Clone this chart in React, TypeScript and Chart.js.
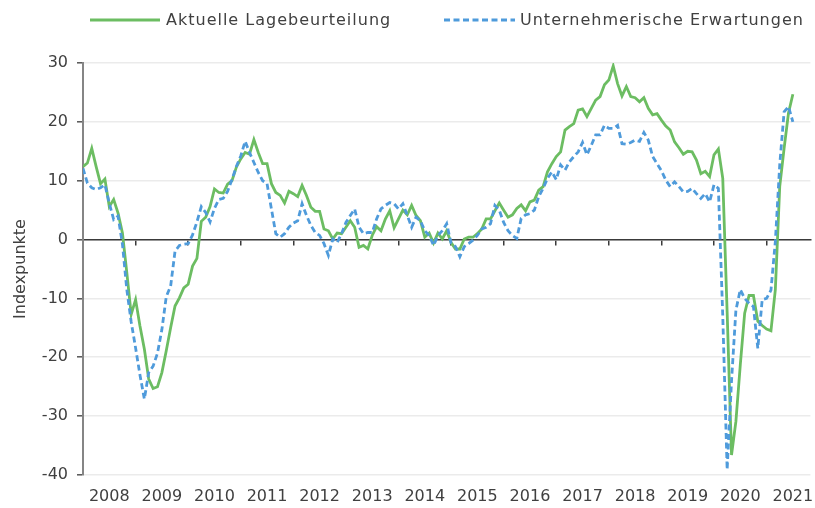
import React, { useEffect, useRef } from 'react';
import { Chart, registerables } from 'chart.js';

Chart.register(...registerables);

// ---- data (monthly, Jan 2008 onwards) ----
const YEAR_LABELS = ['2008', '2009', '2010', '2011', '2012', '2013', '2014', '2015', '2016', '2017', '2018', '2019', '2020', '2021'];

const SERIES_NAMES = ['Aktuelle Lagebeurteilung', 'Unternehmerische Erwartungen'];

const LAGE = [
  12.4, 13.0, 15.5, 12.4, 9.5, 10.3, 5.6, 6.8, 4.5, 1.1, -5.6, -12.7,
  -10.2, -14.7, -18.6, -23.7, -25.3, -25.0, -22.6, -18.9, -15.0, -11.3, -9.9, -8.2,
  -7.6, -4.5, -3.2, 3.1, 3.8, 5.6, 8.6, 8.0, 7.9, 9.4, 10.0, 12.3,
  13.7, 14.8, 14.5, 17.0, 14.8, 12.9, 12.9, 9.5, 8.0, 7.5, 6.2, 8.2,
  7.8, 7.3, 9.2, 7.5, 5.5, 4.8, 4.8, 1.8, 1.5, 0.1, 1.1, 1.0,
  2.1, 3.2, 2.1, -1.3, -1.0, -1.6, 0.7, 2.2, 1.5, 3.5, 4.9, 2.0,
  3.5, 5.0, 4.2, 5.8, 4.1, 3.2, 0.4, 1.1, -0.6, 1.1, 0.1, 1.5,
  -0.5, -1.6, -1.6, 0.1, 0.4, 0.4, 1.0, 1.8, 3.5, 3.5, 4.9, 6.2,
  5.0, 3.8, 4.2, 5.3, 5.9, 4.9, 6.4, 6.7, 8.4, 9.0, 11.5, 12.9,
  14.1, 14.9, 18.6, 19.2, 19.7, 22.0, 22.2, 20.9, 22.3, 23.7, 24.3, 26.3,
  27.1, 29.5, 26.5, 24.4, 26.0, 24.3, 24.1, 23.4, 24.1, 22.3, 21.2, 21.4,
  20.3, 19.3, 18.6, 16.6, 15.6, 14.5, 15.0, 14.9, 13.5, 11.2, 11.6, 10.7,
  14.4, 15.4, 10.4, -12.3, -36.6, -30.9, -21.3, -12.5, -9.5, -9.5, -13.9, -14.6,
  -15.2, -15.5, -8.5, 9.0, 15.5, 21.5, 24.7,
];

const ERWARTUNGEN = [
  12.1, 9.6, 8.8, 8.5, 8.8, 9.3, 6.2, 3.4, 4.0, -0.8, -8.5, -14.0,
  -18.4, -23.0, -27.1, -22.6, -21.5, -19.3, -15.3, -9.7, -7.9, -2.0, -1.0, -0.8,
  -0.7, 0.8, 3.0, 5.6, 4.6, 3.0, 5.3, 6.8, 7.0, 8.2, 10.2, 12.4,
  14.2, 16.7, 14.8, 13.1, 11.4, 10.0, 9.5, 5.2, 1.0, 0.4, 1.0, 2.1,
  2.8, 3.2, 6.1, 4.1, 2.4, 1.2, 0.7, -0.7, -2.7, 0.1, -0.5, 1.0,
  2.9, 4.1, 5.2, 2.1, 1.0, 1.2, 1.2, 3.5, 5.2, 5.8, 6.3, 6.1,
  5.2, 6.1, 4.1, 2.1, 3.8, 3.2, 1.5, 0.7, -1.0, 0.7, 1.5, 2.7,
  -0.6, -1.2, -2.9, -1.2, -0.7, -0.1, 0.7, 1.8, 2.1, 2.7, 5.8, 5.0,
  2.9, 1.5, 0.7, 0.2, 3.6, 4.2, 4.4, 5.0, 7.3, 8.7, 10.4, 11.5,
  10.2, 12.7, 11.8, 13.2, 14.1, 14.9, 16.5, 14.4, 16.0, 17.8, 17.8, 19.4,
  18.9, 18.9, 19.4, 16.3, 16.2, 16.5, 16.9, 16.7, 18.2, 16.9, 14.1, 12.9,
  11.7, 10.1, 9.0, 9.8, 9.0, 8.1, 8.2, 8.7, 7.8, 7.0, 7.8, 6.4,
  9.3, 8.7, -13.0, -39.1, -24.0, -12.0, -8.5, -10.0, -10.8, -11.4, -18.5, -10.2,
  -10.0, -8.6, -0.3, 12.7, 21.7, 22.6, 20.0,
];

const Y_MIN = -40;
const Y_MAX = 30;
const Y_STEP = 10;
const AXIS_TITLE = 'Indexpunkte';

// ---- style ----
const GREEN = '#6cbd62';
const BLUE = '#4f9bdb';
const TEXT = '#404040';
const FONT = "'DejaVu Sans', sans-serif";
const X_MAX = 166; // months shown on the axis

export default function App() {
  const ref = useRef<HTMLCanvasElement>(null);

  useEffect(() => {
    const canvas = ref.current;
    if (!canvas) return;
    const chart = new Chart(canvas, {
      type: 'line',
      data: {
        datasets: [
          {
            label: SERIES_NAMES[0],
            data: LAGE.map((v, i) => ({ x: i, y: v })),
            borderColor: GREEN,
            backgroundColor: GREEN,
            borderWidth: 2.8,
            pointRadius: 0,
            tension: 0,
            order: 1,
            xAxisID: 'x',
            yAxisID: 'y',
          },
          {
            label: SERIES_NAMES[1],
            data: ERWARTUNGEN.map((v, i) => ({ x: i, y: v })),
            borderColor: BLUE,
            backgroundColor: BLUE,
            borderWidth: 2.8,
            borderDash: [6, 3.5],
            pointRadius: 0,
            tension: 0,
            order: 0,
            xAxisID: 'x',
            yAxisID: 'y',
          },
        ],
      },
      options: {
        responsive: false,
        maintainAspectRatio: false,
        animation: false,
        events: [],
        layout: { padding: { top: 63, right: 4.6, bottom: 0, left: 0 } },
        plugins: {
          legend: { display: false },
          tooltip: { enabled: false },
        },
        scales: {
          x: {
            type: 'linear',
            position: 'bottom',
            min: 0,
            max: X_MAX,
            afterBuildTicks: (s: any) => {
              s.ticks = YEAR_LABELS.map((_, i) => ({ value: 6 + 12 * i }));
            },
            afterFit: (s: any) => {
              s.height = 33;
              s.paddingLeft = 0;
              s.paddingRight = 0;
            },
            ticks: {
              autoSkip: false,
              maxRotation: 0,
              minRotation: 0,
              padding: 12,
              color: TEXT,
              font: { family: FONT, size: 16 },
              callback: (_v: any, i: number) => YEAR_LABELS[i],
            },
            grid: { display: false, drawTicks: false },
            border: { display: false },
          },
          x2: {
            type: 'linear',
            axis: 'x',
            position: { y: 0 },
            min: 0,
            max: X_MAX,
            afterBuildTicks: (s: any) => {
              s.ticks = YEAR_LABELS.slice(1).map((_, i) => ({ value: 12 * (i + 1) }));
            },
            ticks: { display: false },
            grid: {
              display: true,
              drawOnChartArea: false,
              drawTicks: true,
              tickLength: 5,
              color: '#3a3a3a',
              lineWidth: 1.5,
            },
            border: { display: true, color: '#3a3a3a', width: 1.5 },
          } as any,
          y: {
            type: 'linear',
            min: Y_MIN,
            max: Y_MAX,
            afterFit: (s: any) => {
              s.width = 83;
            },
            ticks: {
              stepSize: Y_STEP,
              padding: 9,
              color: TEXT,
              font: { family: FONT, size: 16 },
            },
            grid: {
              color: '#ebebeb',
              lineWidth: 1.6,
              drawTicks: true,
              tickLength: 6,
              tickColor: '#555555',
              tickWidth: 1.5,
            },
            border: { display: true, color: '#858585', width: 2 },
            title: {
              display: true,
              text: AXIS_TITLE,
              color: TEXT,
              font: { family: FONT, size: 16 },
              padding: { top: 11, bottom: 0 },
            },
          },
        },
      },
    });
    return () => chart.destroy();
  }, []);

  const legendText: React.CSSProperties = {
    position: 'absolute',
    top: 10,
    height: 20,
    lineHeight: '20px',
    fontFamily: FONT,
    fontSize: 16,
    letterSpacing: '1px',
    color: TEXT,
    whiteSpace: 'nowrap',
  };

  return (
    <div
      style={{
        position: 'fixed',
        left: 0,
        top: 0,
        width: 815,
        height: 508,
        background: '#ffffff',
        overflow: 'hidden',
      }}
    >
      <canvas
        ref={ref}
        width={815}
        height={508}
        style={{ position: 'absolute', left: 0, top: 0, width: 815, height: 508 }}
      />
      <svg width={815} height={40} style={{ position: 'absolute', left: 0, top: 0 }}>
        <line x1={90} y1={20} x2={160} y2={20} stroke={GREEN} strokeWidth={2.8} />
        <line x1={444} y1={20} x2={515} y2={20} stroke={BLUE} strokeWidth={2.8} strokeDasharray="6 3.5" />
      </svg>
      <div style={{ ...legendText, left: 166 }}>{SERIES_NAMES[0]}</div>
      <div style={{ ...legendText, left: 520 }}>{SERIES_NAMES[1]}</div>
    </div>
  );
}
